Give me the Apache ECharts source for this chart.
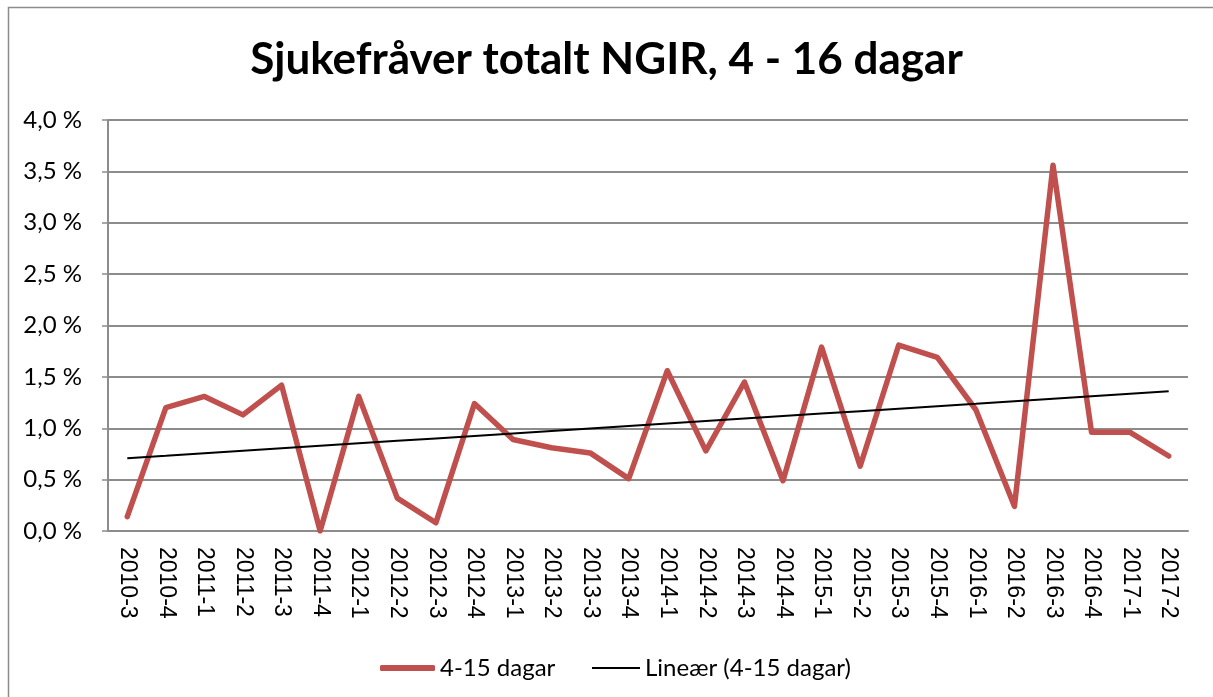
<!DOCTYPE html>
<html>
<head>
<meta charset="utf-8">
<script src="https://cdn.jsdelivr.net/npm/echarts@6/dist/echarts.min.js"></script>
<style>
html,body{margin:0;padding:0;background:#fff;}
#chart{width:1213px;height:697px;}
</style>
</head>
<body>
<div id="chart"></div>
<script>
const categories = ['2010-3','2010-4','2011-1','2011-2','2011-3','2011-4','2012-1','2012-2','2012-3','2012-4',
  '2013-1','2013-2','2013-3','2013-4','2014-1','2014-2','2014-3','2014-4','2015-1','2015-2',
  '2015-3','2015-4','2016-1','2016-2','2016-3','2016-4','2017-1','2017-2'];
const values = [0.14,1.20,1.31,1.13,1.42,0.00,1.31,0.32,0.08,1.24,
  0.89,0.81,0.76,0.51,1.56,0.78,1.45,0.49,1.79,0.63,
  1.81,1.69,1.18,0.24,3.56,0.96,0.96,0.73];
const seriesName = '4-15 dagar';
const trendName = 'Lineær (4-15 dagar)';
const titleText = 'Sjukefråver totalt NGIR, 4 - 16 dagar';

// least-squares linear trend (as the spreadsheet trendline)
const n = values.length;
let sx=0, sy=0, sxy=0, sxx=0;
values.forEach((v,i)=>{sx+=i; sy+=v; sxy+=i*v; sxx+=i*i;});
const slope = (n*sxy - sx*sy)/(n*sxx - sx*sx);
const icpt = (sy - slope*sx)/n;
const trend = values.map((v,i)=>+(icpt + slope*i).toFixed(4));

const legendText = {fontFamily:'Lato', fontSize:24, color:'#000'};
const chart = echarts.init(document.getElementById('chart'));
chart.setOption({
  animation:false,
  backgroundColor:'#fff',
  graphic:[{type:'rect', shape:{x:8.5,y:7.5,width:1400,height:900}, style:{fill:'none', stroke:'#8c8c8c', lineWidth:1.5}, silent:true}],
  title:{text:titleText, left:'center', top:33,
    textStyle:{fontFamily:'Lato', fontWeight:'bold', fontSize:44, color:'#000'}},
  legend:[
    {left:375, top:651, itemWidth:55, itemHeight:6, icon:'roundRect', selectedMode:false,
      textStyle:legendText, data:[seriesName]},
    {left:587, top:651, itemWidth:48, itemHeight:2, icon:'rect', selectedMode:false,
      textStyle:legendText, data:[trendName]}
  ],
  grid:{left:108, right:25, top:120, bottom:166, containLabel:false},
  xAxis:{type:'category', data:categories, boundaryGap:true,
    axisLine:{lineStyle:{color:'#8c8c8c', width:2}},
    axisTick:{show:false},
    axisLabel:{rotate:-90, interval:0, fontFamily:'Liberation Sans', fontSize:23, color:'#000', margin:16}},
  yAxis:{type:'value', min:0, max:4, interval:0.5,
    axisLine:{show:true, lineStyle:{color:'#8c8c8c', width:2}},
    axisTick:{show:true, inside:false, length:6, lineStyle:{color:'#8c8c8c', width:1.5}},
    splitLine:{lineStyle:{color:'#8c8c8c', width:2}},
    axisLabel:{fontFamily:'Lato', fontSize:24, color:'#000', margin:26,
      formatter:v=>v.toFixed(1).replace('.',',')+' %'}},
  series:[
    {name:seriesName, type:'line', data:values, symbol:'none', color:'#C0504D',
      lineStyle:{color:'#C0504D', width:5.5, cap:'round', join:'round'}, z:2},
    {name:trendName, type:'line', data:trend, symbol:'none', color:'#000',
      lineStyle:{color:'#000', width:2}, z:3}
  ]
});
</script>
</body>
</html>
